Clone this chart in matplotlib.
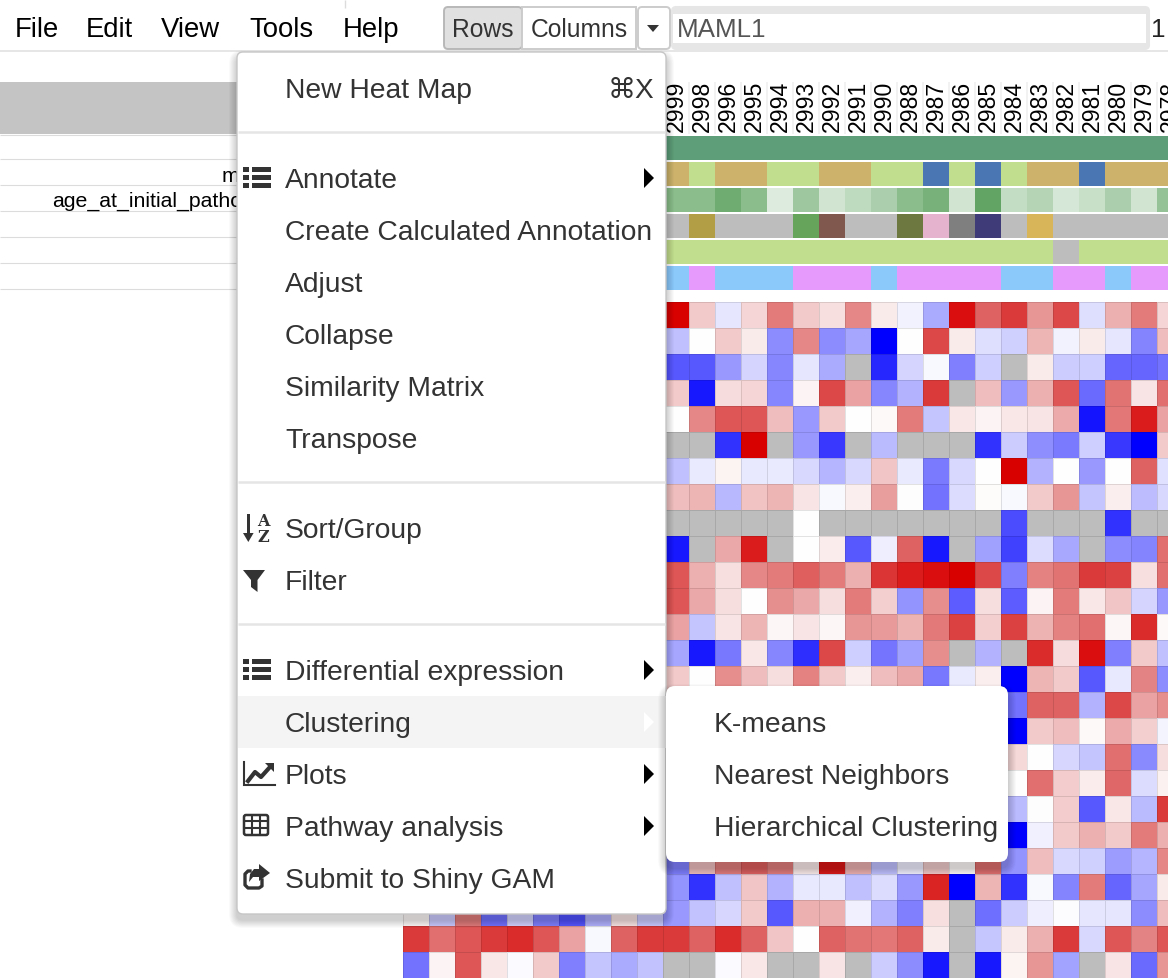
#!/usr/bin/env python3
"""Heat map screenshot: annotation tracks, matrix and the open Tools menu."""

import matplotlib

matplotlib.use("Agg")
import matplotlib.pyplot as plt
from matplotlib.colors import BoundaryNorm, LinearSegmentedColormap, ListedColormap, Normalize
from matplotlib.patches import FancyBboxPatch, Polygon, Rectangle
import numpy as np

W, H = 1168, 978
DPI = 100
CELL = 26

SANS = ["Liberation Sans", "DejaVu Sans"]
DARK = "#333333"
GRAY_CELL = "#bdbdbd"

# data
COLUMN_IDS = ["2999", "2998", "2996", "2995", "2994", "2993", "2992", "2991", "2990", "2988",
              "2987", "2986", "2985", "2984", "2983", "2982", "2981", "2980", "2979", "2978"]

TRACK_SAMPLE = [0] * 20
TRACK_SUBTYPE = [0, 1, 0, 0, 1, 1, 0, 0, 1, 1, 2, 1, 2, 1, 0, 0, 2, 0, 0, 0]
TRACK_AGE = [.50, .50, .62, .50, .15, .42, .20, .28, .36, .50,
             .58, .20, .68, .26, .32, .18, .24, .36, .20, .46]
TRACK_FAB = [0, 1, 0, 0, 0, 2, 3, 0, 0, 4, 5, 6, 7, 0, 8, 0, 0, 0, 0, 0]
TRACK_STATUS = [0] * 15 + [1] + [0] * 4
TRACK_GENDER = [0, 1, 0, 0, 0, 1, 1, 1, 0, 1, 1, 1, 1, 0, 0, 1, 1, 0, 1, 1]

SAMPLE_COLORS = ["#5e9e78"]
SUBTYPE_COLORS = ["#cdb26b", "#c1de8e", "#4a77b4"]
FAB_COLORS = [GRAY_CELL, "#b19e45", "#65a45a", "#80584e", "#6c783f",
              "#e6b3cf", "#7f7f7f", "#3e3b78", "#d9b559"]
STATUS_COLORS = ["#c1de8e", GRAY_CELL]
GENDER_COLORS = ["#8bc9fb", "#e69afb"]

N = None  # gray cell, no value
# matrix on a -10..10 scale, columns 2999..2978
HEAT_RIGHT = [
    [10, 2.5, -1, 2, 5.5, 2.5, 1.5, 5, 1, -.5, -3.3, 9.5, 6.5, 8, 4.5, 7.5, -1.3, 3.5, 5.5, 2],
    [-2.5, 0, 2.5, 1, -4.5, 5, -4.5, -3.5, -10, 0, 7.5, 1, -1.3, -1.8, 3.3, -.5, 1, -1, -4.8, 3],
    [-6.5, -6.5, -4, -1.7, -4.7, -1, -3.3, N, -8.5, -1.7, -.3, -5, -1.9, N, 1, -2, -1.9, -6, -6, -5.5],
    [2.5, -9, 1.7, 2, -4.7, .5, 7.5, 4, -4.7, -3, 8, N, 3, -4, 3.5, 7, -5.8, 5.8, 1.3, 6],
    [0, 5, 7, 7, 3, -4, 2.5, 0, .3, 5.5, -2.3, 1.2, .5, 1.2, 1.3, 3.7, -9.2, 5.7, 9, 4],
    [N, N, -8, 10, N, -4, -7.8, N, -2.7, N, N, N, -8, -2, -4.4, -5.2, -1.9, -7.8, -10, 2.5],
    [-2.5, -.8, .6, -.9, -.8, -1.5, -2.9, -1.5, 2.7, -.8, -5.2, -1.5, 0, 10, -3, 0, -4, 0, 6.5, -1.2],
    [3, 3.3, -2.8, 2.8, 3.3, 1.3, -.3, .8, 4.2, .1, -5.5, -1.4, .2, -.3, 2.5, 4.5, -2.3, .8, -2.6, -1.5],
    [N, N, N, N, N, 0, N, N, N, N, N, N, N, -7, N, N, N, -8, N, N],
    [-9, N, 3.8, 9, N, 0, .9, -6.5, -.7, 6.5, -9, N, -3.7, -7.5, -1.4, -3.4, N, -4.5, -4.8, 6],
    [7, 3.5, 1.5, 5, 5.5, 6.7, 5.5, 3.5, 8.2, 9, 9.5, 10, 7.5, -5, 5.3, 5.8, 8, 7.8, 1.5, 6],
    [7, 3.8, 1.6, 0, 4.7, 3.8, 1.6, 5.5, 2.3, -4.2, 4.8, -6.4, 1.6, -6.4, .5, 5.5, 1.1, 2.7, -1.7, -4],
    [4, -2.3, 1.3, 3.3, .4, 1.3, .4, 4.5, 4.3, 3.4, 5.6, 7.8, 2.3, 7.8, 3.4, 5.3, 6, .4, 8.5, .3],
    [-3.5, -9, -5.3, 1.2, -4.7, -8.2, 7.5, -1.9, -5.4, -3.7, 4.8, N, -3, N, 8.5, 1.7, 9.5, -5, 2.5, -2.5],
    [2.5, 0, 4.8, 3, 1.6, 5.3, 2.5, .8, 3, 3.8, -5.3, -.8, .8, -10, 3.3, 2.5, -6.5, -.9, 5.2, -4.5],
    # next rows are behind the submenu up to column 13
    [N] * 13 + [-5.5, 6.5, 6.5, -3, 7.5, 4, 4.8],
    [N] * 13 + [-10, 2.5, 3, .3, 3.7, 2.3, -.4],
    [N] * 13 + [1.8, 0, -1.6, -2.3, 6, -4.6, 1.6],
    [N] * 13 + [0, 6, 2.4, .9, 6.3, -1.4, .7],
    [N] * 13 + [-2.7, .1, 2.4, -6.5, 1.1, -2.7, 8],
    [N] * 13 + [-10, -.6, 2.5, 3.5, 2.5, 5.5, 3.5],
    [-5, 3, 5.5, 6.5, 5.5, 1, 9, 3.5, -2.5, -.6, 2.5, .3, 6, -4.2, 3, -1.5, -1.8, -3.9, -2.9, 5],
    [-4.2, -8, -2.5, 2.7, -3, -.9, -.9, -2.5, -1.4, -4, 8.8, -10, 3.3, -8, -.3, -4.8, 5.5, -6, -3.5, 1],
    [-4, -2.4, -1.6, 2.5, -6.5, 3.5, 3.5, -.6, -3, -5, 1.5, N, -5.7, -2, -.7, -.1, -1, -1, -4.5, 3],
    [8, 6.5, 8.5, 6.5, 2.7, 0, 6.5, 5.8, 5.7, 6.5, 1, N, -2.2, 1, 3.5, 8, -1.5, 7, 5.2, 7],
    [N, N, -.2, 1.2, N, N, 1.3, N, -2, -4.5, -9, N, -9, .6, 4.5, -3.6, N, 1.3, -5.8, 4.5],
]
# ten more columns, only the last three rows show below the menu
HEAT_LEFT = {
    23: [.3, -2, 5.5, -5.5, -1.7, -5, -6.5, -3, 1.2, -2],
    24: [8, 6, 7, 8, 8.5, 7, 4, -.3, 6.5, 8],
    25: [-5.5, .5, 7, 1.2, -.2, 2.5, -5, -2.3, -3.3, -2.4],
}

MENU_ITEMS = ["New Heat Map", "Annotate", "Create Calculated Annotation", "Adjust", "Collapse",
              "Similarity Matrix", "Transpose", "Sort/Group", "Filter",
              "Differential expression", "Clustering", "Plots", "Pathway analysis",
              "Submit to Shiny GAM"]
MENU_Y = [88, 178, 230, 282, 334, 386, 438, 528, 580, 670, 722, 774, 826, 878]
SUBMENU_ITEMS = ["K-means", "Nearest Neighbors", "Hierarchical Clustering"]
SUBMENU_Y = [722, 774, 826]
TOP_MENU = [("File", 15), ("Edit", 86), ("View", 161), ("Tools", 249), ("Help", 343)]


def px(size: float) -> float:
    return size * 72.0 / DPI


def pixel_axes(fig, x0, y0, x1, y1, **kwargs):
    ax = fig.add_axes([x0 / W, 1 - y1 / H, (x1 - x0) / W, (y1 - y0) / H], **kwargs)
    ax.set_axis_off()
    return ax


def round_box(x0, y0, x1, y1, radius=6, **kwargs):
    return FancyBboxPatch((x0, y0), x1 - x0, y1 - y0,
                          boxstyle=f"round,pad=0,rounding_size={radius}", **kwargs)


def add_shadow(ax, x0, y0, x1, y1, radius, zorder):
    # blurred box-shadow, stacked translucent boxes
    steps = 12
    for i in range(steps):
        grow = 8 * (1 - i / steps)
        ax.add_patch(round_box(x0 - grow, y0 + 6 - grow, x1 + grow, y1 + 6 + grow,
                               radius=radius + grow, fc="black", ec="none",
                               alpha=0.016, zorder=zorder))


def draw_heat(fig):
    matrix = np.full((26, 30), np.nan)
    for row, values in enumerate(HEAT_RIGHT):
        matrix[row, 10:] = [np.nan if v is None else v for v in values]
    for row, values in HEAT_LEFT.items():
        matrix[row, :10] = values

    cmap = LinearSegmentedColormap.from_list(
        "heat",
        [(0.0, "#0000ff"), (0.5, "#ffffff"), (0.625, "#f2cbcb"),
         (0.75, "#e58888"), (0.875, "#dc4a4a"), (1.0, "#d90000")],
        N=256,
    )
    cmap.set_bad(GRAY_CELL)
    ax = pixel_axes(fig, 403, 302, 403 + 30 * CELL, 302 + 26 * CELL)
    ax.pcolormesh(np.ma.masked_invalid(matrix), cmap=cmap, norm=Normalize(-10, 10),
                  edgecolors=(0, 0, 0, 0.11), linewidth=0.7)
    ax.set_ylim(26, 0)


def draw_tracks(fig):
    left = 663
    right = left + 20 * CELL
    head = pixel_axes(fig, left, 82, right, 134)
    head.set_xlim(0, 20)
    head.set_ylim(52, 0)
    head.vlines(np.arange(21), 0, 52, color="#f0f0f0", linewidth=1.2)
    for i, label in enumerate(COLUMN_IDS):
        head.text(i + 0.5, 50, label, rotation=90, ha="center", va="bottom",
                  fontsize=px(23), family=SANS, color="black", clip_on=True)

    tracks = [
        (TRACK_SAMPLE, SAMPLE_COLORS),
        (TRACK_SUBTYPE, SUBTYPE_COLORS),
        (TRACK_AGE, None),
        (TRACK_FAB, FAB_COLORS),
        (TRACK_STATUS, STATUS_COLORS),
        (TRACK_GENDER, GENDER_COLORS),
    ]
    greens = LinearSegmentedColormap.from_list("age", ["#ffffff", "#17791a"])
    for k, (values, colors) in enumerate(tracks):
        top = 136 + k * CELL
        ax = pixel_axes(fig, left, top, right, top + 24)
        data = np.array([values], dtype=float)
        if colors is None:
            ax.pcolormesh(data, cmap=greens, norm=Normalize(0, 1))
        else:
            bounds = np.arange(len(colors) + 1) - 0.5
            ax.pcolormesh(data, cmap=ListedColormap(colors),
                          norm=BoundaryNorm(bounds, len(colors)))


def draw_background(ax):
    ax.add_patch(Rectangle((0, 82), 240, 52, fc="#c4c4c4", ec="none", zorder=1))
    ax.hlines([135, 159, 185, 211, 237, 263, 289], 0, 240, color="#dcdcdc", linewidth=0.8, zorder=1)
    ax.hlines(51, 0, W, color="#e2e2e2", linewidth=1.2, zorder=1)
    ax.vlines(345, 0, 8, color="#dcdcdc", linewidth=1, zorder=1)
    ax.text(222, 182, "m", fontsize=px(21.3), family=SANS, color="black", zorder=2)
    ax.text(52, 207, "age_at_initial_patho", fontsize=px(21.3), family=SANS, color="black", zorder=2)

    for label, x in TOP_MENU:
        ax.text(x, 37, label, fontsize=px(27.5), family=SANS, color="black", zorder=2)

    ax.add_patch(round_box(444, 7, 522, 49, radius=4, fc="#e0e0e0", ec="#b8b8b8", linewidth=1.4, zorder=2))
    ax.add_patch(Rectangle((522, 7), 114, 42, fc="white", ec="#cccccc", linewidth=1.4, zorder=2))
    ax.add_patch(round_box(638, 7, 670, 49, radius=4, fc="white", ec="#cccccc", linewidth=1.4, zorder=2))
    ax.add_patch(Polygon([(647, 25), (659, 25), (653, 32)], fc=DARK, ec="none", zorder=3))
    ax.text(483, 36.5, "Rows", ha="center", fontsize=px(24.6), family=SANS, color=DARK, zorder=3)
    ax.text(579, 36.5, "Columns", ha="center", fontsize=px(24.6), family=SANS, color=DARK, zorder=3)

    ax.add_patch(round_box(671, 6, 1150, 50, radius=5, fc="#e6e6e6", ec="none", zorder=2))
    ax.add_patch(Rectangle((673, 14), 473, 29, fc="white", ec="none", zorder=2))
    ax.text(677, 37, "MAML1", fontsize=px(26), family=SANS, color="#555555", zorder=3)
    ax.text(1151, 37, "1", fontsize=px(26), family=SANS, color="#222222", zorder=3)


def list_icon(ax, top, zorder):
    for i in range(3):
        y = top + i * 8.2
        ax.add_patch(Rectangle((243, y), 6, 5, fc=DARK, ec="none", zorder=zorder))
        ax.add_patch(Rectangle((252, y), 19, 5, fc=DARK, ec="none", zorder=zorder))


def draw_icons(ax, zorder):
    list_icon(ax, 167, zorder)
    list_icon(ax, 659, zorder)

    # sort
    ax.add_patch(Rectangle((246.8, 514), 3, 22, fc=DARK, ec="none", zorder=zorder))
    ax.add_patch(Polygon([(243, 533), (253.6, 533), (248.3, 542)], fc=DARK, ec="none", zorder=zorder))
    ax.text(263.5, 526, "A", ha="center", fontsize=px(16), family="DejaVu Serif",
            weight="bold", color=DARK, zorder=zorder)
    ax.text(263.5, 542, "Z", ha="center", fontsize=px(16), family="DejaVu Serif",
            weight="bold", color=DARK, zorder=zorder)

    # filter
    ax.add_patch(Polygon([(243, 570), (265, 570), (257.5, 580), (257.5, 592), (251, 587), (251, 580)],
                         fc=DARK, ec="none", zorder=zorder))

    # plots
    ax.plot([243.5, 243.5, 275], [762, 785.5, 785.5], color=DARK, linewidth=1.5,
            solid_joinstyle="miter", zorder=zorder)
    ax.plot([248, 255, 261, 270], [781, 772, 777, 767], color=DARK, linewidth=3, zorder=zorder)
    ax.add_patch(Polygon([(265, 763), (274, 763), (274, 772)], fc=DARK, ec="none", zorder=zorder))

    # table
    ax.add_patch(round_box(244, 815, 268, 835, radius=2, fc="none", ec=DARK, linewidth=1.8, zorder=zorder))
    ax.hlines([821.5, 828.5], 244, 268, color=DARK, linewidth=1.5, zorder=zorder)
    ax.vlines([252, 260], 815, 835, color=DARK, linewidth=1.5, zorder=zorder)

    # share
    ax.plot([262, 262, 259, 248, 245, 245, 248, 250], [880, 886, 888, 888, 885, 874, 871, 871],
            color=DARK, linewidth=2.4, zorder=zorder)
    ax.add_patch(Polygon([(259, 864), (270, 873), (259, 881), (259, 877), (253, 877), (249, 882),
                          (250, 874), (254, 869), (259, 869)], fc=DARK, ec="none", zorder=zorder))


def draw_menu(ax):
    add_shadow(ax, 237, 52, 666, 914, 6, zorder=10)
    ax.add_patch(round_box(237, 52, 666, 914, radius=6, fc="white", ec="#c6c6c6", linewidth=1.0, zorder=11))
    ax.add_patch(Rectangle((238, 696), 428, 52, fc="#f4f4f4", ec="none", zorder=12))
    ax.hlines([132, 482, 624], 238, 665, color="#e5e5e5", linewidth=1.8, zorder=12)

    for label, y in zip(MENU_ITEMS, MENU_Y):
        ax.text(285, y + 10, label, fontsize=px(28.3), family=SANS, color=DARK, zorder=13)
    ax.text(654, 98, "\u2318X", ha="right", fontsize=px(28), family=SANS, color=DARK, zorder=13)

    for y, color in [(178, "black"), (670, "black"), (722, "white"), (774, "black"), (826, "black")]:
        ax.add_patch(Polygon([(644, y - 10), (654, y), (644, y + 10)], fc=color, ec="none", zorder=13))
    draw_icons(ax, 13)

    add_shadow(ax, 666, 686, 1008, 862, 8, zorder=14)
    ax.add_patch(round_box(666, 686, 1008, 862, radius=9, fc="white", ec="none", zorder=15))
    for label, y in zip(SUBMENU_ITEMS, SUBMENU_Y):
        ax.text(714, y + 10, label, fontsize=px(28.3), family=SANS, color=DARK, zorder=16)


def main() -> None:
    fig = plt.figure(figsize=((W + 0.01) / DPI, (H + 0.01) / DPI), dpi=DPI, facecolor="white")
    draw_heat(fig)
    draw_tracks(fig)

    overlay = pixel_axes(fig, 0, 0, W, H)
    overlay.set_xlim(0, W)
    overlay.set_ylim(H, 0)
    draw_background(overlay)
    draw_menu(overlay)

    fig.savefig("out.png", dpi=DPI)
    plt.close(fig)


if __name__ == "__main__":
    main()
